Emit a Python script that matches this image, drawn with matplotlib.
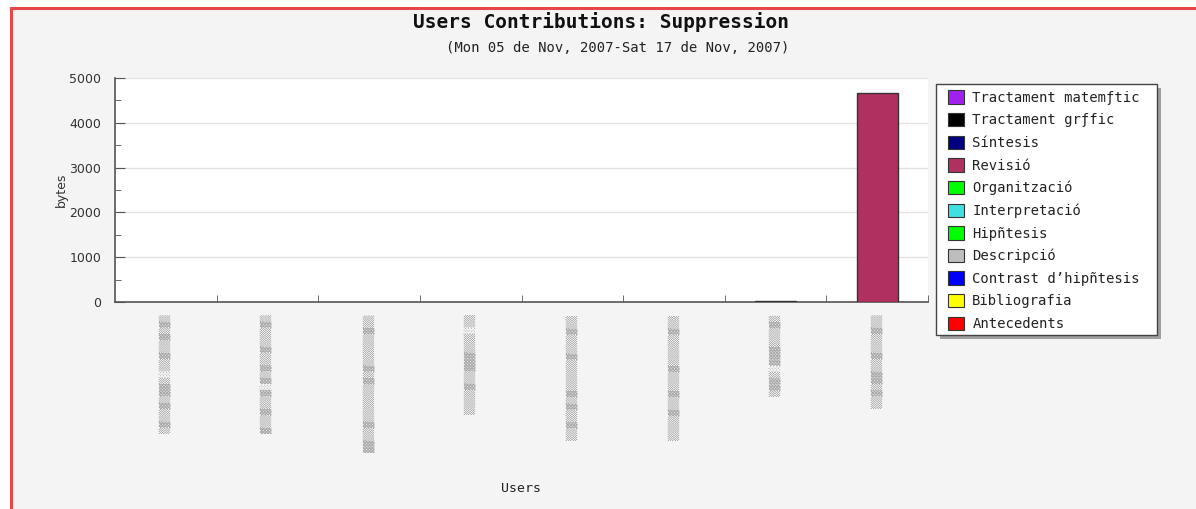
import matplotlib
matplotlib.use("Agg")
import matplotlib.pyplot as plt
from matplotlib.patches import Patch, Rectangle
from matplotlib.ticker import MultipleLocator, FixedLocator
import numpy as np

# ---------------- data ----------------
user_labels = [
    "▒▓▒▒▓▒▓▓▒░▒▒▓▒▒▓▒▓▒",
    "▓▒▒▓▒▒▓░▓▒▓▒▒▓▒▒▒▓▒",
    "▓▓▒▒▓▒▒▒▒▒▒▓▒▓▒▒▒▒▒▓▒▒",
    "▒▒▒▒▓▒▒▓▓▓▒▒▒░▒▒",
    "▒▒▓▒▒▓▒▓▒▒▒▒▒▓▒▒▒▓▒▒",
    "▒▒▒▒▓▒▒▓▒▒▒▓▒▒▒▒▒▓▒▒",
    "▒▓▓▒░▓▓▓▒▒▒▓▒",
    "▒▒▓▒▓▓▒▒▓▒▒▒▓▒▒",
]
series_names = [
    "Tractament matemƒtic", "Tractament grƒfic", "Síntesis", "Revisió",
    "Organització", "Interpretació", "Hipñtesis", "Descripció",
    "Contrast d’hipñtesis", "Bibliografia", "Antecedents",
]
series_colors = [
    "#a020f0", "#000000", "#000080", "#b03060",
    "#00ff00", "#40e0e0", "#00ff00", "#bebebe",
    "#0000ff", "#ffff00", "#ff0000",
]
tractament_matematic = [0, 0, 0, 0, 0, 0, 0, 0]
tractament_grafic    = [0, 0, 0, 0, 0, 0, 0, 0]
sintesis             = [0, 0, 0, 0, 0, 0, 0, 0]
revisio              = [0, 0, 0, 0, 0, 0, 30, 4670]
organitzacio         = [0, 0, 0, 0, 0, 0, 0, 0]
interpretacio        = [0, 0, 0, 0, 0, 0, 0, 0]
hipotesis            = [0, 0, 0, 0, 0, 0, 0, 0]
descripcio           = [0, 0, 0, 0, 0, 0, 0, 0]
contrast             = [0, 0, 0, 0, 0, 0, 0, 0]
bibliografia         = [0, 0, 0, 0, 0, 0, 0, 0]
antecedents          = [0, 0, 0, 0, 0, 0, 0, 0]
series_values = [tractament_matematic, tractament_grafic, sintesis, revisio,
                 organitzacio, interpretacio, hipotesis, descripcio,
                 contrast, bibliografia, antecedents]

title = "Users Contributions: Suppression"
subtitle = "(Mon 05 de Nov, 2007-Sat 17 de Nov, 2007)"

# ---------------- figure ----------------
W, H = 1196, 509
fig = plt.figure(figsize=(W / 100, H / 100), dpi=100)
fig.patch.set_facecolor("white")

def px_rect(x0, y0_top, x1, y1_top, **kw):
    """Rectangle given in pixel coords measured from the top-left."""
    return Rectangle((x0 / W, 1 - y1_top / H), (x1 - x0) / W,
                     (y1_top - y0_top) / H, transform=fig.transFigure, **kw)

# grey panel with red frame (left and top visible)
fig.patches.append(px_rect(11, 8, 1250, 560, facecolor="#f4f4f4",
                           edgecolor="none", zorder=-10))
fig.patches.append(px_rect(11, 8, 1250, 560, fill=False,
                           edgecolor="#e8474a", linewidth=2.2, zorder=10))

ax = fig.add_axes([115 / W, (H - 302) / H, (928 - 115) / W, (302 - 78) / H])
ax.set_facecolor("white")

x = np.arange(len(user_labels))
bottom = np.zeros(len(user_labels))
for name, color, vals in zip(series_names, series_colors, series_values):
    vals = np.array(vals, dtype=float)
    edges = ["#333333" if v > 0 else "none" for v in vals]
    ax.bar(x, vals, width=0.4, bottom=bottom, color=color,
           edgecolor=edges, linewidth=1.0, zorder=3)
    bottom += vals

ax.set_xlim(-0.5, len(user_labels) - 0.5)
ax.set_ylim(0, 5000)

for s in ["top", "right"]:
    ax.spines[s].set_visible(False)
for s in ["left", "bottom"]:
    ax.spines[s].set_color("#555555")
    ax.spines[s].set_linewidth(1.2)

ax.yaxis.set_major_locator(MultipleLocator(1000))
ax.yaxis.set_minor_locator(MultipleLocator(500))
ax.grid(axis="y", which="major", color="#e2e2e2", linewidth=1.0, zorder=0)
ax.tick_params(axis="y", which="major", direction="in", length=7,
               color="#555555", labelsize=9, labelcolor="#333333", pad=10)
ax.tick_params(axis="y", which="minor", direction="in", length=4,
               color="#555555")
for lab in ax.get_yticklabels():
    lab.set_fontfamily("DejaVu Sans")

ax.set_xticks(x)
ax.set_xticklabels(user_labels, rotation=90, fontsize=7.5,
                   color="#aaaaaa", family="DejaVu Sans Mono", va="top")
ax.xaxis.set_minor_locator(FixedLocator(np.arange(len(user_labels)) + 0.5))
ax.tick_params(axis="x", which="major", length=0, pad=9)
ax.tick_params(axis="x", which="minor", direction="in", length=5,
               color="#555555")

ax.set_ylabel("bytes", fontsize=9, color="#333333", family="DejaVu Sans",
              labelpad=1)
fig.text(521 / W, 1 - 488 / H, "Users", ha="center", va="center",
         fontsize=9.5, family="DejaVu Sans Mono", color="#222222")

fig.text(601 / W, 1 - 22 / H, title, ha="center", va="center",
         fontsize=14, fontweight="bold", family="DejaVu Sans Mono",
         color="#111111")
fig.text(618 / W, 1 - 48 / H, subtitle, ha="center", va="center",
         fontsize=10, family="DejaVu Sans Mono", color="#222222")

# legend box with drop shadow
fig.patches.append(px_rect(940, 88, 1161, 339, facecolor="#8a8a8a",
                           edgecolor="none", alpha=0.8, zorder=4))
fig.patches.append(px_rect(936, 84, 1157, 335, facecolor="white",
                           edgecolor="#444444", linewidth=1.0, zorder=5))

handles = [Patch(facecolor=c, edgecolor="#333333", linewidth=0.8)
           for c in series_colors]
leg = fig.legend(handles, series_names, loc="upper left",
                 bbox_to_anchor=(948 / W, 1 - 90.5 / H),
                 prop={"family": "DejaVu Sans Mono", "size": 10},
                 handlelength=1.15, handleheight=1.1, handletextpad=0.6,
                 labelspacing=0.59, borderpad=0.0, frameon=False,
                 borderaxespad=0)
leg.set_zorder(6)
for t in leg.get_texts():
    t.set_color("#222222")

fig.savefig("out.png", dpi=100, facecolor=fig.get_facecolor())
